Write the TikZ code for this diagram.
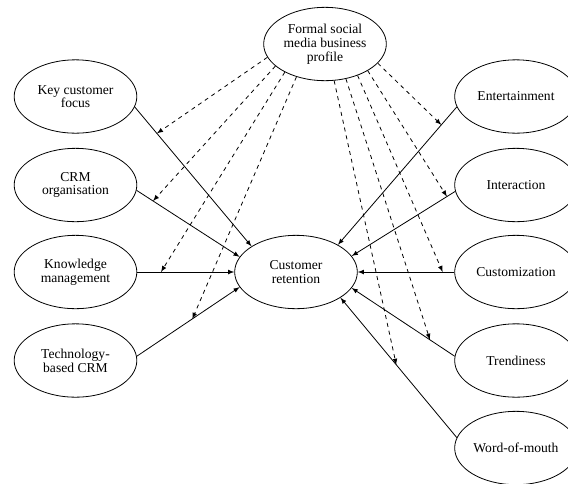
\documentclass[tikz,border=0pt]{standalone}
\usepackage{fontspec}
\setmainfont{Liberation Serif}
\usetikzlibrary{shapes, arrows}

\begin{document}
\begin{tikzpicture}[x=0.75pt, y=-0.75pt, >=latex,
    factor/.style={ellipse, draw, line width=0.6pt, align=center, inner sep=0pt, minimum width=92pt, minimum height=55pt, font=\fontsize{10.2pt}{10.3pt}\selectfont},
    effect/.style={->, line width=0.6pt},
    moderate/.style={->, dashed, line width=0.6pt}]
                \useasboundingbox (0,0) rectangle (568,483);
                % Moderator
                \node[factor] (fsm) at (325,44) {Formal social\\media business\\profile};
                % CRM side
                \node[factor] (kcf) at (75.5,96.5) {Key customer\\focus};
                \node[factor] (crmorg) at (75.5,185) {CRM\\organisation};
                \node[factor] (km) at (75.5,272) {Knowledge\\management};
                \node[factor] (tbcrm) at (75.5,360.5) {Technology-\\based CRM};
                % Social media side
                \node[factor] (ent) at (516,96.5) {Entertainment};
                \node[factor] (inter) at (516,185) {Interaction};
                \node[factor] (cust) at (516,272) {Customization};
                \node[factor] (trend) at (516,360.5) {Trendiness};
                \node[factor] (wom) at (516,448) {Word-of-mouth};
                % Outcome
                \node[factor] (cr) at (296,272) {Customer\\retention};
                % Direct effects
                \draw[effect] (kcf.-10) -- coordinate[pos=0.19] (mkcf) (cr.150);
                \draw[effect] (crmorg.-5) -- coordinate[pos=0.16] (mcrmorg) (cr.165);
                \draw[effect] (km.east) -- coordinate[pos=0.245] (mkm) (cr.west);
                \draw[effect] (tbcrm.4) -- coordinate[pos=0.54] (mtbcrm) (cr.195);
                \draw[effect] (ent.190) -- coordinate[pos=0.13] (ment) (cr.33);
                \draw[effect] (inter.186) -- coordinate[pos=0.08] (minter) (cr.16);
                \draw[effect] (cust.west) -- coordinate[pos=0.12] (mcust) (cr.east);
                \draw[effect] (trend.176) -- coordinate[pos=0.24] (mtrend) (cr.-16);
                \draw[effect] (wom.170) -- coordinate[pos=0.52] (mwom) (cr.-30);
                % Moderating effects
                \draw[moderate] (fsm.193) -- (mkcf);
                \draw[moderate] (fsm.204) -- (mcrmorg);
                \draw[moderate] (fsm.215) -- (mkm);
                \draw[moderate] (fsm.229) -- (mtbcrm);
                \draw[moderate] (fsm.284) -- (mwom);
                \draw[moderate] (fsm.301) -- (mtrend);
                \draw[moderate] (fsm.316) -- (mcust);
                \draw[moderate] (fsm.328) -- (minter);
                \draw[moderate] (fsm.340) -- (ment);
\end{tikzpicture}
\end{document}
